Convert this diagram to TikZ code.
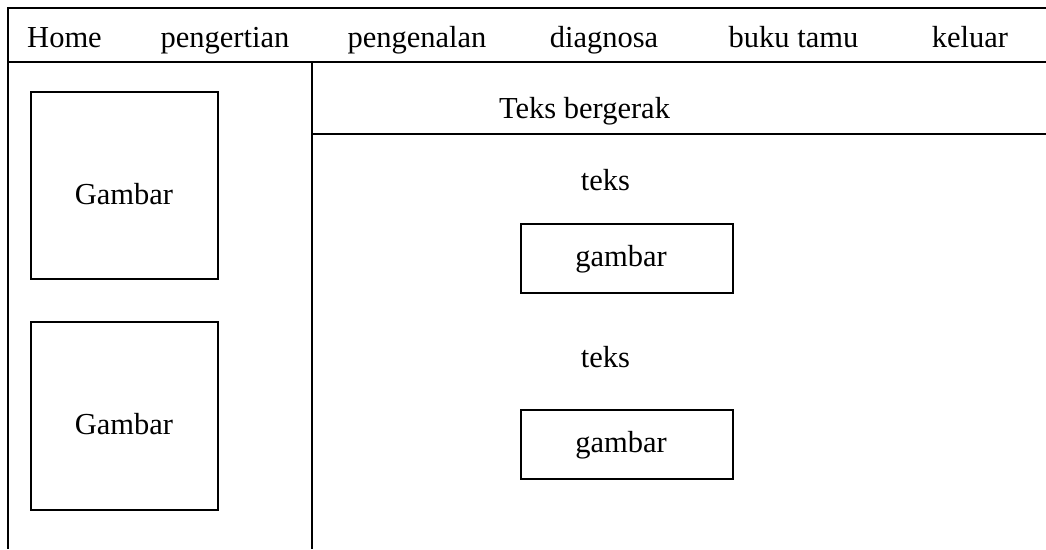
\documentclass[tikz,border=0pt]{standalone}
\usepackage{fontspec}
\setmainfont{Liberation Serif}
\begin{document}
\begin{tikzpicture}[x=1pt,y=-1pt,
  ln/.style={line width=2pt},
  box/.style={draw,line width=2pt,inner sep=0pt},
  txt/.style={font=\fontsize{30.5}{34}\selectfont,inner sep=0pt,anchor=base}]
\useasboundingbox (0,0) rectangle (1046,549);
% frame lines
\coordinate (tl) at (8,8);
\coordinate (tr) at (1046,8);
\coordinate (ml) at (8,62);
\coordinate (mr) at (1046,62);
\coordinate (bl) at (8,549);
\coordinate (st) at (312,62);
\coordinate (sb) at (312,549);
\coordinate (hl) at (312,134);
\coordinate (hr) at (1046,134);
\draw[ln] (tr) -- (tl) -- (bl);
\draw[ln] (ml) -- (mr);
\draw[ln] (st) -- (sb);
\draw[ln] (hl) -- (hr);
% menu
\node[txt] (m1) at (64.5,47) {Home};
\node[txt] (m2) at (225,47) {pengertian};
\node[txt] (m3) at (417,47) {pengenalan};
\node[txt] (m4) at (604,47) {diagnosa};
\node[txt] (m5) at (793.5,47) {buku tamu};
\node[txt] (m6) at (970,47) {keluar};
% left images
\node[box,minimum width=187pt,minimum height=187pt] (g1) at (124.5,185.5) {};
\node[txt] (g1t) at (124,204) {Gambar};
\node[box,minimum width=187pt,minimum height=188pt] (g2) at (124.5,416) {};
\node[txt] (g2t) at (124,434) {Gambar};
% content
\node[txt] (tb) at (584.5,118) {Teks bergerak};
\node[txt] (t1) at (605.5,190) {teks};
\node[box,minimum width=212pt,minimum height=69pt] (b1) at (627,258.5) {};
\node[txt] (b1t) at (621,266) {gambar};
\node[txt] (t2) at (605.5,367) {teks};
\node[box,minimum width=212pt,minimum height=69pt] (b2) at (627,444.5) {};
\node[txt] (b2t) at (621,452) {gambar};
\end{tikzpicture}
\end{document}
